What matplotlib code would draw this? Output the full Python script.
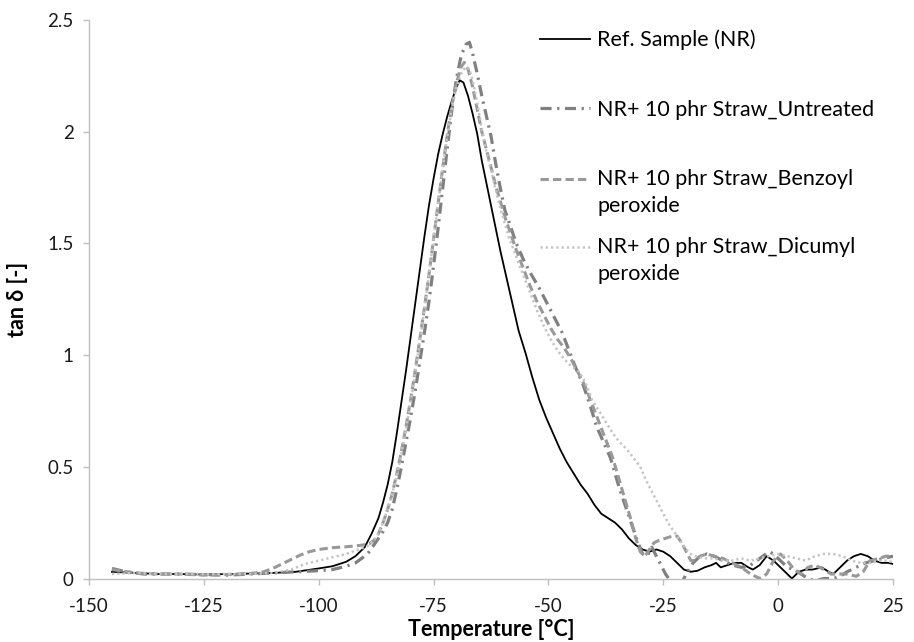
import numpy as np
import matplotlib
matplotlib.use("Agg")
import matplotlib.pyplot as plt
from matplotlib.legend_handler import HandlerLine2D

plt.rcParams["font.family"] = ["Lato", "DejaVu Sans"]
plt.rcParams["lines.scale_dashes"] = False

# tan delta curves (temperature in degC)
t_ref = [-145, -140, -135, -130, -125, -120, -115, -110, -105, -100, -97, -94, -92, -90,
         -88.5, -87, -86, -85, -84, -83, -82, -81, -80, -79, -78, -77, -76, -75, -74, -73,
         -72, -71, -70, -69.3, -68.5, -67.5, -66.5, -65.5, -64.5, -63.5, -62.5, -61.5,
         -60.5, -59.5, -58.5, -57.5, -56.5, -55, -53.5, -52, -50.5, -49, -47.5, -46, -44.5,
         -43, -41.5, -40, -38.5, -37, -35.5, -34, -32.5, -31, -29.5, -28, -26.5, -25, -23.5,
         -22, -20.5, -19, -17.5, -16, -14.5, -13.5, -12.5, -11, -9.5, -8, -6.5, -5.5, -4,
         -2.5, -1, 0.5, 2, 3, 4.5, 6, 7.5, 9.5, 11, 12, 13.5, 15, 16.5, 18, 19.5, 21, 22.5,
         24, 25]
tan_ref = [0.03, 0.025, 0.02, 0.02, 0.018, 0.02, 0.022, 0.025, 0.03, 0.045, 0.055, 0.075,
           0.1, 0.14, 0.2, 0.27, 0.34, 0.42, 0.52, 0.65, 0.79, 0.93, 1.08, 1.23, 1.38, 1.53,
           1.67, 1.79, 1.9, 1.99, 2.07, 2.14, 2.2, 2.23, 2.22, 2.16, 2.08, 1.99, 1.87, 1.77,
           1.67, 1.57, 1.47, 1.38, 1.29, 1.2, 1.11, 1.01, 0.9, 0.8, 0.72, 0.65, 0.58, 0.52,
           0.47, 0.42, 0.38, 0.33, 0.29, 0.27, 0.25, 0.22, 0.18, 0.15, 0.13, 0.12, 0.13,
           0.12, 0.1, 0.07, 0.04, 0.03, 0.035, 0.05, 0.06, 0.07, 0.05, 0.06, 0.07, 0.07,
           0.05, 0.04, 0.06, 0.1, 0.08, 0.05, 0.02, 0.0, 0.03, 0.04, 0.04, 0.05, 0.03, 0.02,
           0.05, 0.08, 0.1, 0.11, 0.1, 0.08, 0.07, 0.07, 0.065]

t_untr = [-145, -142, -138, -130, -120, -115, -110, -105, -100, -97, -94, -92, -90, -89,
          -88, -87, -86, -85, -84, -83, -82, -81, -80, -79, -78, -77, -76, -75, -74, -73,
          -72, -71, -70, -69, -68, -67.2, -66.5, -65.5, -64.5, -63.5, -62.5, -61.5, -60.5,
          -59.5, -58.5, -57, -55.5, -54, -52, -50, -48.5, -47, -45.5, -44, -42.5, -41,
          -39.5, -38, -36.5, -35.5, -34.5, -33.5, -32.5, -31.5, -30.5, -29.5, -28.5, -27.5,
          -26.5, -25.5, -24.5, -23.5, -22, -21, -20, -18.5, -17, -15.5, -14, -12, -10, -8,
          -6, -4, -2, -1, 0.5, 2, 3.5, 5, 6.5, 8, 10, 12, 13.5, 15, 17, 19, 21, 23, 25]
tan_untr = [0.045, 0.03, 0.02, 0.02, 0.015, 0.02, 0.025, 0.03, 0.035, 0.04, 0.055, 0.07,
            0.1, 0.12, 0.15, 0.18, 0.21, 0.25, 0.31, 0.4, 0.5, 0.61, 0.72, 0.84, 0.97, 1.1,
            1.24, 1.4, 1.57, 1.75, 1.93, 2.1, 2.24, 2.34, 2.39, 2.4, 2.35, 2.26, 2.16, 2.07,
            1.98, 1.86, 1.75, 1.65, 1.59, 1.5, 1.43, 1.37, 1.3, 1.22, 1.16, 1.1, 1.02, 0.94,
            0.87, 0.78, 0.68, 0.61, 0.54, 0.47, 0.4, 0.34, 0.28, 0.22, 0.16, 0.11, 0.1,
            0.14, 0.1, 0.06, 0.02, -0.01, -0.03, -0.02, 0.02, 0.07, 0.1, 0.11, 0.1, 0.08,
            0.06, 0.05, 0.06, 0.09, 0.12, 0.11, 0.08, 0.05, 0.04, 0.02, 0.0, -0.01, 0.0,
            0.0, 0.01, 0.03, 0.05, 0.07, 0.08, 0.09, 0.1]

t_bp = [-145, -140, -135, -130, -125, -120, -115, -112, -110, -108, -106, -104, -102, -100,
        -97, -94, -91, -89, -88, -87, -86, -85, -84, -83, -82, -81, -80, -79, -78, -77, -76,
        -75, -74, -73, -72, -71, -70, -69, -68.3, -67.5, -66.5, -65.5, -64.5, -63.5, -62.5,
        -61.5, -60.5, -59.5, -58.5, -57, -55.5, -54, -52.5, -51, -49.5, -48, -46.5, -45,
        -43.5, -42, -40.5, -39, -37.5, -36, -35, -34, -33, -32, -31, -30, -29, -28, -27,
        -26, -24.5, -23, -22, -21, -20, -19, -18, -17, -15.5, -14, -12, -10, -8, -6, -4,
        -2.5, -1, 0.5, 2, 3.5, 5, 6.5, 8, 10, 11.5, 13, 15, 17, 18.5, 20, 22, 23.5, 25]
tan_bp = [0.04, 0.025, 0.02, 0.02, 0.015, 0.018, 0.022, 0.03, 0.045, 0.065, 0.085, 0.105,
          0.12, 0.13, 0.138, 0.142, 0.148, 0.155, 0.17, 0.2, 0.25, 0.31, 0.38, 0.47, 0.57,
          0.68, 0.8, 0.93, 1.07, 1.21, 1.36, 1.52, 1.68, 1.84, 1.99, 2.12, 2.22, 2.29, 2.31,
          2.28, 2.2, 2.1, 2.0, 1.92, 1.84, 1.76, 1.69, 1.62, 1.56, 1.47, 1.39, 1.31, 1.24,
          1.18, 1.12, 1.07, 1.03, 0.98, 0.92, 0.86, 0.78, 0.7, 0.62, 0.54, 0.47, 0.4, 0.33,
          0.26, 0.18, 0.12, 0.1, 0.13, 0.16, 0.17, 0.18, 0.19, 0.19, 0.16, 0.12, 0.08, 0.08,
          0.1, 0.11, 0.1, 0.09, 0.07, 0.05, 0.02, 0.0, 0.02, 0.08, 0.11, 0.08, 0.04, 0.02,
          0.05, 0.06, 0.04, 0.02, 0.02, 0.02, 0.01, 0.03, 0.08, 0.09, 0.1, 0.1]

t_dcp = [-145, -140, -135, -130, -125, -120, -115, -110, -106, -103, -100, -97, -94, -92,
         -90, -89, -88, -87, -86, -85, -84, -83, -82, -81, -80, -79, -78, -77, -76, -75,
         -74, -73, -72, -71, -70, -69, -68, -67.2, -66.5, -65.5, -64.5, -63.5, -62.5,
         -61.5, -60.5, -59.5, -58.5, -57, -55.5, -54, -52.5, -51, -49.5, -48, -46.5, -45,
         -43.5, -42, -40.5, -39, -37.5, -36, -34.5, -33, -31.5, -30, -29, -28, -27, -26,
         -25, -24, -23, -22, -21, -20, -19, -18, -16, -14, -12, -10, -8, -6, -4, -2, 0, 2,
         4, 6, 8, 10, 12, 14, 16, 18, 20, 22, 24, 25]
tan_dcp = [0.02, 0.025, 0.02, 0.02, 0.02, 0.02, 0.02, 0.025, 0.04, 0.065, 0.08, 0.095,
           0.11, 0.125, 0.14, 0.15, 0.17, 0.2, 0.25, 0.31, 0.38, 0.46, 0.56, 0.67, 0.79,
           0.92, 1.06, 1.21, 1.36, 1.52, 1.68, 1.84, 1.98, 2.11, 2.2, 2.26, 2.29, 2.28, 2.23,
           2.13, 2.01, 1.91, 1.83, 1.74, 1.66, 1.59, 1.52, 1.44, 1.36, 1.28, 1.2, 1.13, 1.07,
           1.02, 0.98, 0.95, 0.93, 0.88, 0.8, 0.75, 0.7, 0.65, 0.61, 0.58, 0.54, 0.5, 0.45,
           0.41, 0.37, 0.33, 0.29, 0.25, 0.22, 0.19, 0.16, 0.13, 0.11, 0.1, 0.09, 0.09, 0.08,
           0.08, 0.09, 0.08, 0.09, 0.1, 0.11, 0.1, 0.09, 0.08, 0.1, 0.11, 0.11, 0.1, 0.08,
           0.07, 0.07, 0.08, 0.08, 0.07]

labels = ["Ref. Sample (NR)",
          "NR+ 10 phr Straw_Untreated",
          "NR+ 10 phr Straw_Benzoyl\nperoxide",
          "NR+ 10 phr Straw_Dicumyl\nperoxide"]


class HandlerFirstLine(HandlerLine2D):
    """put the legend line next to the first text line of a wrapped label"""
    def __init__(self, shift=0.0, **kw):
        super().__init__(**kw)
        self.shift = shift

    def create_artists(self, legend, orig_handle, xdescent, ydescent, width, height,
                       fontsize, trans):
        arts = super().create_artists(legend, orig_handle, xdescent, ydescent, width,
                                      height, fontsize, trans)
        for a in arts:
            a.set_ydata(np.asarray(a.get_ydata()) + self.shift)
        return arts


fig = plt.figure(figsize=(9.14, 6.42), dpi=100)
ax = fig.add_axes([0.0974, 0.0989, 0.8796, 0.8700])

l_ref, = ax.plot(t_ref, tan_ref, color="black", lw=1.3)
l_untr, = ax.plot(t_untr, tan_untr, color="#808080", lw=2.3, dashes=(8, 4, 1.6, 4))
l_bp, = ax.plot(t_bp, tan_bp, color="#999999", lw=2.2, dashes=(6, 3))
l_dcp, = ax.plot(t_dcp, tan_dcp, color="#c4c4c4", lw=1.8, dashes=(1.6, 2.2))

ax.set_xlim(-150, 25)
ax.set_ylim(0, 2.5)
ax.set_xticks(np.arange(-150, 26, 25))
ax.set_yticks(np.arange(0, 2.51, 0.5))
ax.set_xticklabels([f"{v:g}" for v in np.arange(-150, 26, 25)])
ax.set_yticklabels([f"{v:g}" for v in np.arange(0, 2.51, 0.5)])

for side in ["top", "right"]:
    ax.spines[side].set_visible(False)
for side in ["left", "bottom"]:
    ax.spines[side].set_color("#bfbfbf")
    ax.spines[side].set_linewidth(1.0)
ax.tick_params(axis="both", direction="out", length=4, width=1, color="#bfbfbf",
               labelsize=13.5, labelcolor="#1a1a1a")
ax.tick_params(axis="x", pad=10)
ax.tick_params(axis="y", pad=7)

ax.set_xlabel("Temperature [°C]", fontsize=15.5, fontweight="bold", labelpad=3)
ax.set_ylabel("tan δ [-]", fontsize=15.5, fontweight="bold", labelpad=14)

fs = 15.5
kw = dict(frameon=False, fontsize=fs, loc="upper left", borderpad=0, borderaxespad=0,
          handlelength=2.3, handletextpad=0.35)
shift = 10.0
leg1 = ax.legend([l_ref, l_untr, l_bp], labels[:3], bbox_to_anchor=(0.561, 0.983),
                 labelspacing=2.3, handler_map={l_bp: HandlerFirstLine(shift)}, **kw)
ax.add_artist(leg1)
leg2 = ax.legend([l_dcp], labels[3:], bbox_to_anchor=(0.561, 0.612),
                 handler_map={l_dcp: HandlerFirstLine(shift)}, **kw)
for leg in (leg1, leg2):
    for txt in leg.get_texts():
        txt.set_linespacing(1.45)

fig.savefig("out.png", dpi=100)
